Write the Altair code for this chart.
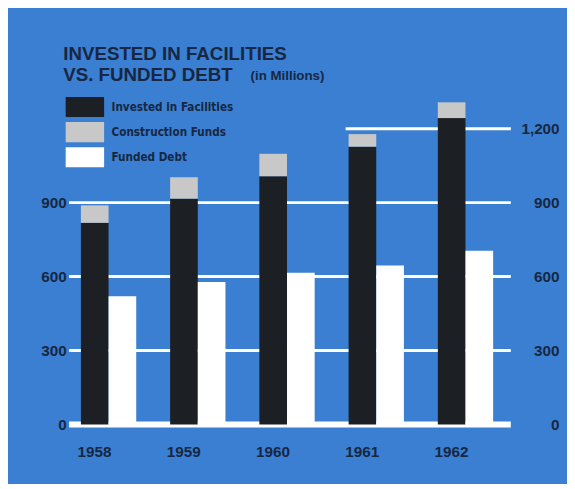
import altair as alt
import pandas as pd

# ---- data ----
years = ["1958", "1959", "1960", "1961", "1962"]
invested = [818, 916, 1007, 1127, 1243]      # Invested in Facilities
construction = [71, 87, 91, 51, 64]          # Construction Funds (stacked on top)
funded = [520, 578, 615, 645, 705]           # Funded Debt
series = ["Invested in Facilities", "Construction Funds", "Funded Debt"]
grid_values = [300, 600, 900]
left_ticks = [0, 300, 600, 900]
right_ticks = [0, 300, 600, 900, 1200]
title_lines = ["INVESTED IN FACILITIES", "VS. FUNDED DEBT"]
unit_note = "(in Millions)"

BLUE = "#3a7fd2"
INK = "#172741"
DARK = "#1c2024"
GRAY = "#c8c8c8"
FONT = "Liberation Sans"
NARROW = "DejaVu Sans Condensed, Liberation Sans"

rows = []
for i, y in enumerate(years):
    rows.append({"year": y, "grp": "a", "series": series[0], "ord": 0, "value": invested[i]})
    rows.append({"year": y, "grp": "a", "series": series[1], "ord": 1, "value": construction[i]})
    rows.append({"year": y, "grp": "b", "series": series[2], "ord": 0, "value": funded[i]})
bars_df = pd.DataFrame(rows)

yscale = alt.Scale(domain=[0, 1320], nice=False)
xscale = alt.Scale(domain=years, paddingInner=0.38, paddingOuter=0.165, align=0.4)

grid = alt.Chart(pd.DataFrame({"v": grid_values})).mark_rule(
    color="white", strokeWidth=3
).encode(
    y=alt.Y("v:Q", scale=yscale,
            axis=alt.Axis(orient="right", values=right_ticks, format=",d",
                          labelAlign="right", labelPadding=49, title=None)),
)

top_line = alt.Chart(pd.DataFrame({"v": [1200]})).mark_rule(
    color="white", strokeWidth=3, xOffset=-3
).encode(
    y=alt.Y("v:Q", scale=yscale, axis=None),
    x=alt.XDatum("1961", type="nominal", bandPosition=0, scale=xscale),
    x2=alt.value(448),
)

zero_line = alt.Chart(pd.DataFrame({"v": [0]})).mark_rule(
    color="white", strokeWidth=6
).encode(
    y=alt.Y("v:Q", scale=yscale, axis=None),
)

bars = alt.Chart(bars_df).mark_bar(opacity=1, strokeWidth=0).encode(
    x=alt.X("year:N", scale=xscale,
            axis=alt.Axis(orient="bottom", labelAngle=0, labelPadding=28,
                          labelOffset=3, title=None)),
    xOffset=alt.XOffset("grp:N", scale=alt.Scale(paddingInner=0, paddingOuter=0)),
    y=alt.Y("value:Q", stack="zero", scale=yscale,
            axis=alt.Axis(orient="left", values=left_ticks, format=",d",
                          labelPadding=3, title=None)),
    color=alt.Color("series:N",
                    scale=alt.Scale(domain=series, range=[DARK, GRAY, "white"]),
                    legend=alt.Legend(title=None, orient="none", legendX=6, legendY=-2,
                                      symbolType="M-2,-1.05H2V1.05H-2Z", symbolSize=380,
                                      symbolStrokeWidth=0, symbolOpacity=1,
                                      labelFont=NARROW, labelFontSize=11.8,
                                      labelFontWeight="bold", labelColor=INK,
                                      labelOffset=17, rowPadding=3.5)),
    order=alt.Order("ord:Q"),
)

title1 = alt.Chart(pd.DataFrame({"t": [title_lines[0]]})).mark_text(
    font=FONT, fontSize=19, fontWeight="bold", color=INK, align="left", baseline="alphabetic"
).encode(text="t:N", x=alt.value(-6), y=alt.value(-40))

title2 = alt.Chart(pd.DataFrame({"t": [title_lines[1]]})).mark_text(
    font=FONT, fontSize=19, fontWeight="bold", color=INK, align="left", baseline="alphabetic"
).encode(text="t:N", x=alt.value(-6), y=alt.value(-18))

note = alt.Chart(pd.DataFrame({"t": [unit_note]})).mark_text(
    font=FONT, fontSize=13.5, fontWeight="bold", color=INK, align="left", baseline="alphabetic"
).encode(text="t:N", x=alt.value(184), y=alt.value(-19))

chart = alt.layer(
    grid, top_line, zero_line, bars, title1, title2, note
).resolve_scale(
    y="shared", x="shared"
).resolve_axis(
    y="independent"
).properties(
    width=448, height=330,
    autosize=alt.AutoSizeParams(type="none"),
    padding={"left": 62, "top": 89, "right": 57, "bottom": 57},
    background=BLUE,
).configure_view(
    stroke=None
).configure_axis(
    domain=False, ticks=False, grid=False,
    labelFont=FONT, labelFontSize=15.5, labelFontWeight="bold", labelColor=INK,
)

chart.save("out.html", embed_options={"renderer": "svg", "actions": False})
